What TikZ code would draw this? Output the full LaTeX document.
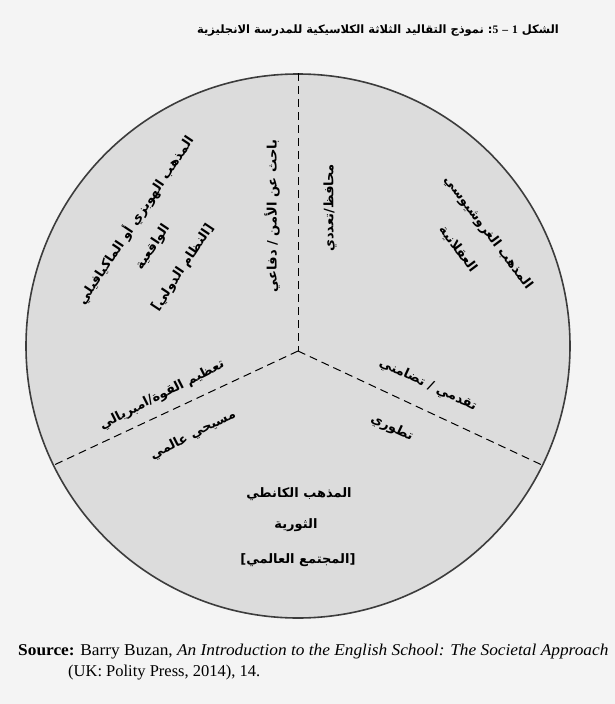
\documentclass[tikz,border=0pt]{standalone}
\usepackage{fontspec}
\setmainfont{Liberation Serif}
\newfontfamily\arb[Script=Arabic]{DejaVu Sans}
\TeXXeTstate=1
\definecolor{bgc}{HTML}{F4F4F4}
\definecolor{circfill}{HTML}{DCDCDC}
\definecolor{circline}{HTML}{3C3C3C}
\begin{document}
\begin{tikzpicture}[x=1pt,y=-1pt,
  lbl/.style={font=\arb\bfseries\fontsize{13}{15}\selectfont, inner sep=0pt, text=black},
  ttl/.style={font=\arb\bfseries\fontsize{11.5}{14}\selectfont, inner sep=0pt},
  src/.style={font=\fontsize{16.5}{18}\selectfont, inner sep=0pt, anchor=base west},
  dashline/.style={draw=black, line width=1pt, dash pattern=on 8pt off 5pt}]
\fill[bgc] (0,0) rectangle (615,704);
\useasboundingbox (0,0) rectangle (615,704);
% title
\node[ttl] (title) at (378,31) {\beginR الشكل {\rmfamily\bfseries 1} {\rmfamily\bfseries –} {\rmfamily\bfseries 5}\hbox{:} نموذج التقاليد الثلاثة الكلاسيكية للمدرسة الانجليزية\endR};
% circle
\node[circle, draw=circline, fill=circfill, line width=1.6pt, minimum size=544pt, inner sep=0pt] (c) at (298,346) {};
\coordinate (J) at (298,351);
\draw[dashline] (c.north) -- (J);
\draw[dashline] (J) -- (c.206.5);
\draw[dashline] (J) -- (c.-26.4);
% left-upper sector
\node[lbl, rotate=56.3] (l1) at (135,220) {\beginR المذهب الهوبزي أو الماكيافيلي\endR};
\node[lbl, rotate=56.3] (l2) at (153,247) {\beginR الواقعية\endR};
\node[lbl, rotate=56.3] (l3) at (183,268) {\beginR [النظام الدولي]\endR};
% vertical labels
\node[lbl, rotate=90] (v1) at (272,216) {\beginR باحث عن الأمن / دفاعي\endR};
\node[lbl, rotate=90] (v2) at (330,208) {\beginR محافظ/تعددي\endR};
% right sector
\node[lbl, rotate=-53] (r1) at (488,233) {\beginR المذهب الغروشيوسي\endR};
\node[lbl, rotate=-53] (r2) at (458,249) {\beginR العقلانية\endR};
% lower right
\node[lbl, rotate=-25] (p1) at (428,385) {\beginR تقدمي / تضامني\endR};
\node[lbl, rotate=-25] (p2) at (392,428) {\beginR تطوري\endR};
% lower left
\node[lbl, rotate=27] (q1) at (162,395) {\beginR تعظيم القوة/امبريالي\endR};
\node[lbl, rotate=27] (q2) at (193,435) {\beginR مسيحي عالمي\endR};
% bottom
\node[lbl] (b1) at (299,494) {\beginR المذهب الكانطي\endR};
\node[lbl] (b2) at (296,525) {\beginR الثورية\endR};
\node[lbl] (b3) at (298,560) {\beginR [المجتمع العالمي]\endR};
% source
\node[src, xscale=1.05] (s1) at (18,655) {\textbf{Source:} Barry Buzan, \textit{An Introduction to the English School: The Societal Approach}};
\node[src] (s2) at (68,676) {(UK: Polity Press, 2014), 14.};
\end{tikzpicture}
\end{document}
